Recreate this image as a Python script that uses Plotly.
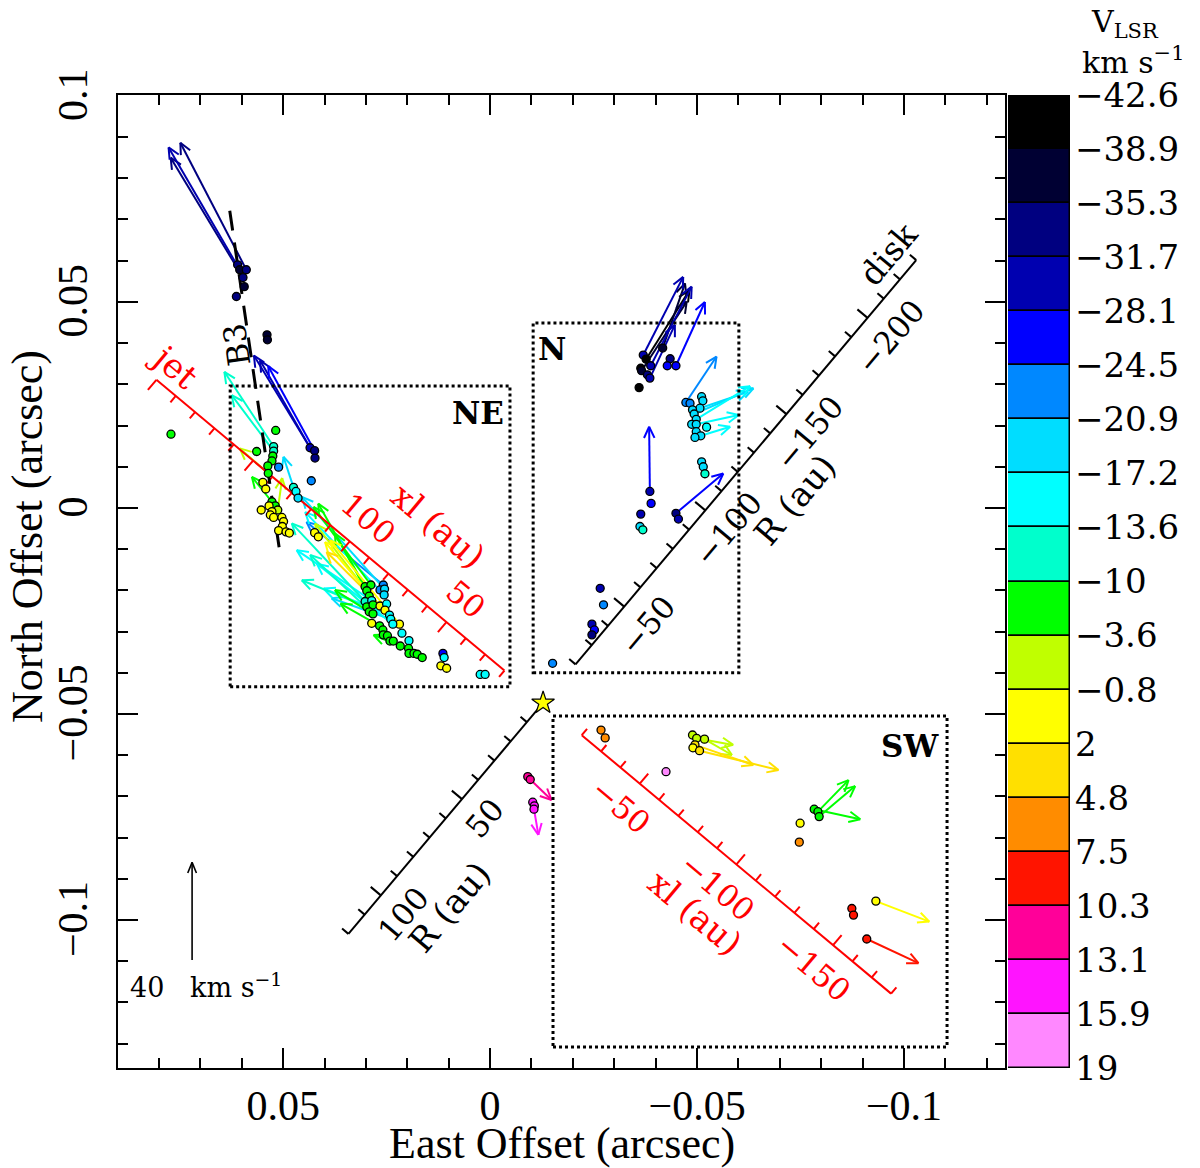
import numpy as np
import plotly.graph_objects as go

# V_LSR colour bands (km/s), top of the bar = most blue-shifted
v_edges = [-42.6, -38.9, -35.3, -31.7, -28.1, -24.5, -20.9, -17.2, -13.6, -10,
           -3.6, -0.8, 2, 4.8, 7.5, 10.3, 13.1, 15.9, 19]
band_colors = ["#000000", "#000033", "#000080", "#0000b0", "#0000ff", "#0088ff",
               "#00ddff", "#00ffff", "#00ffcc", "#00ff00", "#c0ff00", "#ffff00",
               "#ffe000", "#ff8c00", "#ff1400", "#ff0099", "#ff14ff", "#ff88ff"]

# maser spots: offsets in mas (east, north) and V_LSR in km/s
spot_x = [61.0, 60.5, 58.9, 59.7, 59.4, 61.3, 53.9, 53.8,
          43.5, 42.4, 42.3, 43.2, 77.1,
          51.8, 56.4, 52.3, 52.3, 52.5, 52.7, 51.1, 53.7, 53.6, 54.9,
          54.2, 47.5, 46.9, 46.4, 52.7, 51.9, 53.4, 51.3, 55.3, 52.7,
          53.1, 52.3, 50.3, 49.9, 50.2, 51.1, 49.3, 48.5, 42.4, 41.5,
          30.2, 28.8, 29.8, 29.2, 30.2, 28.6, 29.8, 28.3, 29.2, 28.3,
          25.8, 26.6, 25.5, 25.6, 26.6, 25.0, 25.4, 24.3, 24.0, 21.9,
          23.5, 28.6, 26.7, 25.9, 25.8, 24.8, 24.2, 23.4, 21.3, 21.7,
          19.6, 19.7, 19.6, 18.4, 17.6, 16.4, 11.4, 11.1, 11.9, 10.5, 2.4, 1.2,
          -37.0, -37.7, -36.4, -36.6, -38.8, -38.0, -38.6, -41.7, -43.5, -42.8,
          -44.9, -36.0, -47.3, -48.3, -51.1, -51.4, -50.7, -48.9, -49.3, -49.8,
          -48.7, -49.8, -52.3, -49.8, -50.9, -49.5, -51.1, -51.5, -51.9, -38.6,
          -38.9, -36.4, -36.2, -36.9, -44.9, -45.5, -26.6, -27.4, -24.6, -25.2,
          -24.6, -15.1,
          -26.8, -27.8, -48.9, -49.9, -51.8, -49.5, -49.0, -50.6, -42.5,
          -78.3, -79.2, -79.5, -74.9, -74.7, -87.4, -87.8, -93.2, -91.0,
          -9.1, -9.7, -10.3, -10.7, -10.6]
spot_y = [59.0, 57.8, 57.8, 55.9, 53.7, 51.3, 42.0, 40.8,
          14.6, 13.9, 12.1, 6.6, 17.9,
          18.8, 13.7, 14.9, 13.8, 12.6, 11.4, 9.9, 10.2, 8.4, 6.2,
          4.6, 5.0, 4.0, 2.4, 1.5, 0.5, 0.5, -0.5, -0.5, -0.9,
          -1.7, -2.3, -2.3, -3.3, -4.5, -5.5, -5.8, -6.1, -6.0, -7.0,
          -19.1, -18.7, -20.1, -21.4, -22.7, -22.5, -24.0, -23.5, -25.2, -25.7,
          -18.7, -19.9, -19.7, -21.1, -23.8, -23.3, -24.8, -26.0, -27.0, -28.2,
          -28.2, -28.0, -28.6, -29.6, -30.8, -31.0, -32.3, -32.3, -30.4, -33.5,
          -32.2, -34.1, -35.3, -35.3, -35.5, -36.3, -35.3, -36.3, -38.3, -38.9, -40.4, -40.4,
          37.1, 36.1, 33.9, 33.3, 34.5, 32.3, 31.5, 38.8, 36.2, 34.5,
          34.5, 29.2, 25.6, 25.4, 27.0, 26.0, 24.2, 23.8, 22.8, 21.5,
          20.3, 20.3, 19.6, 18.5, 17.5, 17.1, 11.2, 10.0, 8.3, 4.0,
          1.1, -1.5, -4.5, -5.3, -1.3, -2.7, -19.5, -23.5, -28.2, -29.6,
          -30.8, -37.7,
          -53.9, -55.8, -55.1, -55.9, -56.1, -57.5, -58.2, -58.9, -64.0,
          -73.1, -73.7, -74.9, -76.5, -81.1, -97.2, -98.8, -95.4, -104.6,
          -65.2, -65.9, -71.4, -72.3, -73.1]
spot_v = [-33.5, -37.1, -33.5, -33.5, -37.1, -33.5, -37.1, -37.1,
          -29.9, -33.5, -33.5, -22.7, -6.8,
          -6.8, -6.8, -11.8, -11.8, -6.8, -6.8, -22.7, -6.8, -6.8, 0.6,
          0.6, -11.8, -15.4, -19.0, -6.8, -6.8, 0.6, -2.2, 0.6, 0.6,
          0.6, 0.6, 0.6, 0.6, 0.6, 0.6, 0.6, 0.6, 0.6, 0.6,
          -6.8, -6.8, -6.8, -6.8, -11.8, -15.4, -6.8, -6.8, -6.8, -6.8,
          -22.7, -22.7, -19.0, -19.0, 0.6, -15.4, 0.6, -15.4, -15.4, 0.6,
          -15.4, 0.6, -6.8, -6.8, -6.8, -6.8, -6.8, -6.8, -15.4, -6.8,
          -15.4, -6.8, -6.8, -6.8, -6.8, -6.8, -26.3, -15.4, 0.6, 0.6, -15.4, -15.4,
          -29.9, -40.7, -40.7, -37.1, -29.9, -33.5, -29.9, -37.1, -33.5, -26.3,
          -26.3, -40.7, -22.7, -22.7, -19.0, -19.0, -19.0, -19.0, -19.0, -19.0,
          -19.0, -19.0, -15.4, -19.0, -19.0, -19.0, -19.0, -19.0, -11.8, -29.9,
          -26.3, -29.9, -19.0, -11.8, -33.5, -29.9, -29.9, -22.7, -29.9, -26.3,
          -33.5, -22.7,
          6.1, 6.1, -2.2, -2.2, -2.2, 3.4, 0.6, 3.4, 17.4,
          -6.8, -6.8, -6.8, 0.6, 6.1, 8.9, 8.9, 0.6, 8.9,
          11.7, 11.7, 14.5, 14.5, 14.5]

# proper motions: tail (mas), velocity east/north (km/s), V_LSR (km/s)
pm_x = [58.9, 60.5, 59.7, 43.5, 42.4, 43.5,
        52.3, 52.3, 53.6, 52.7, 51.3, 47.5,
        30.2, 28.8, 25.5, 25.8, 30.2, 29.8, 26.6, 28.6, 25.4, 29.8,
        24.3, 29.2, 24.0, 26.7, 21.7, 23.5, 28.3, 21.9, 29.2, 25.6,
        -37.0, -37.7, -36.6, -38.8, -38.6, -44.9, -41.7, -47.3,
        -49.3, -49.8, -50.7, -49.8, -50.9, -38.6, -44.9,
        -49.9, -51.8, -50.6, -49.5, -79.2, -79.5, -78.3, -93.2, -91.0,
        -9.7, -10.6]
pm_y = [57.8, 57.8, 55.9, 14.6, 13.9, 14.6,
        14.9, 13.8, 8.4, 1.5, -0.5, 5.0,
        -19.1, -18.7, -19.7, -18.7, -22.7, -20.1, -23.8, -22.5, -24.8, -24.0,
        -26.0, -25.2, -27.0, -28.6, -33.5, -28.2, -25.7, -28.2, -21.4, -21.1,
        37.1, 36.1, 33.3, 34.5, 31.5, 34.5, 38.8, 25.6,
        22.8, 21.5, 24.2, 20.3, 17.5, 4.0, -1.3,
        -55.9, -56.1, -58.9, -57.5, -73.7, -74.9, -73.1, -95.4, -104.6,
        -65.9, -73.1]
pm_ve = [26.9, 29.0, 29.5, 22.9, 18.9, 20.4,
         20.1, 17.1, 11.6, 8.2, -1.8, 4.1,
         19.1, 23.4, 33.7, 31.3, 29.9, 21.1, 22.4, 30.6, 23.8, 26.5,
         26.9, 14.0, 24.1, 16.0, 10.9, 31.0, 25.6, 28.3, 14.0, 32.2,
         -16.3, -17.7, -18.4, -16.7, -10.2, -11.8, -9.1, -12.5,
         -24.2, -22.0, -19.6, -17.3, -12.0, 0.3, -19.3,
         -14.9, -11.2, -32.2, -23.8, -12.5, -14.7, -18.8, -21.8, -21.1,
         -8.7, -1.8]
pm_vn = [52.0, 50.1, 49.1, 37.8, 34.6, 35.8,
         30.6, 22.9, 10.2, 10.2, 13.1, 12.5,
         34.0, 32.0, 37.8, 25.8, 32.0, 27.5, 26.2, 20.7, 23.8, 10.9,
         10.9, 8.9, 8.6, 9.1, 4.5, 24.8, 24.1, 34.4, 25.7, 33.9,
         32.0, 28.3, 28.3, 32.4, 21.8, 26.1, 26.5, 18.8,
         10.5, 13.6, 6.7, 3.8, 3.7, 26.5, 16.3,
         -2.7, -6.5, -7.9, -8.2, 12.9, 12.5, -4.1, -8.4, -9.9,
         -8.4, -10.5]
pm_v = [-33.5, -29.9, -33.5, -29.9, -26.3, -29.9,
        -11.8, -11.8, -2.2, -6.8, -2.2, -19.0,
        -6.8, -6.8, -19.0, -22.7, -11.8, -2.2, 0.6, -15.4, 3.4, -11.8,
        -15.4, -6.8, -19.0, -6.8, -6.8, -15.4, -11.8, 0.6, -6.8, -15.4,
        -29.9, -40.7, -37.1, -29.9, -29.9, -26.3, -37.1, -22.7,
        -19.0, -15.4, -19.0, -15.4, -15.4, -26.3, -26.3,
        -2.2, -2.2, 3.4, 3.4, -6.8, -6.8, -6.8, 0.6, 8.9,
        11.7, 14.5]

# dotted regions (mas): east edge, west edge, north edge, south edge
box_names = ["NE", "N", "SW"]
box_east = [62.8, -10.4, -15.2]
box_west = [-4.8, -60.1, -110.4]
box_north = [29.6, 44.9, -50.5]
box_south = [-43.4, -40.0, -130.8]
box_lab_x = [2.9, -15.0, -101.4]
box_lab_y = [23.1, 38.6, -57.8]

# geometry of the source
star_x, star_y = -12.8, -47.3      # mas
dist_kpc = 1.64
jet_pa = 50.0                      # deg east of north
scale_kms = 40
scale_len = 23.7                   # mas drawn for scale_kms
scale_x, scale_y = 72.0, -109.7
b3_x = [62.9, 50.7]
b3_y = [72.1, -11.4]
b3_lab = (61.3, 39.6)

MAS = 1e-3
SERIF = "Liberation Serif"
CENT = "DejaVu Serif"
kms2mas = scale_len / scale_kms

# page sits 8px inside the browser window (body margin)
W, H = 1190, 1160
ML, MR, MT, MB = 110, 128, 87, 100
PW, PH = W - ML - MR, H - MT - MB


def px2paper(x, y):
    # window pixel -> paper coordinates
    return (x - 8 - ML) / PW, (H - MB - (y - 8)) / PH


def band_of(v):
    return int(np.clip(np.searchsorted(v_edges, v) - 1, 0, len(band_colors) - 1))


def arrow_xy(x0, y0, dx, dy, head=3.0, ang=25.0):
    x1, y1 = x0 + dx, y0 + dy
    L = np.hypot(dx, dy)
    ux, uy = dx / L, dy / L
    xs, ys = [x0, x1, None], [y0, y1, None]
    for s in (1, -1):
        a = np.radians(180 + s * ang)
        hx = ux * np.cos(a) - uy * np.sin(a)
        hy = ux * np.sin(a) + uy * np.cos(a)
        xs += [x1, x1 + head * hx, None]
        ys += [y1, y1 + head * hy, None]
    return xs, ys


def mas(v):
    return [None if a is None else a * MAS for a in v]


fig = go.Figure()

# proper motion arrows, one trace per colour band
segs = {}
for x0, y0, ve, vn, v in zip(pm_x, pm_y, pm_ve, pm_vn, pm_v):
    b = band_of(v)
    xs, ys = arrow_xy(x0, y0, ve * kms2mas, vn * kms2mas)
    segs.setdefault(b, ([], []))
    segs[b][0].extend(xs)
    segs[b][1].extend(ys)
for b, (xs, ys) in sorted(segs.items()):
    fig.add_trace(go.Scatter(x=mas(xs), y=mas(ys), mode="lines",
                             line=dict(color=band_colors[b], width=2),
                             hoverinfo="skip"))

# jet / disk position axes in au
au = 1.0 / dist_kpc
ang = np.radians(jet_pa)
jet_u = np.array([np.sin(ang), np.cos(ang)])
disk_u = np.array([np.sin(ang + np.pi / 2), np.cos(ang + np.pi / 2)])
star = np.array([star_x, star_y])

au_axes = [
    # direction, start, end, tick side, label side, labels, title, title r, title off, colour, angle
    (jet_u, 20, 200, disk_u, -disk_u, [50, 100], "xl (au)", 77, 16.5, "red", 90 - jet_pa),
    (jet_u, -20, -180, -disk_u, disk_u, [-50, -100, -150], "xl (au)", -100, 15.5, "red", 90 - jet_pa),
    (disk_u, -20, -230, jet_u, -jet_u, [-50, -100, -150, -200], "R (au)", -126, 14.8, "black", -jet_pa),
    (disk_u, 0, 120, jet_u, -jet_u, [50, 100], "R (au)", 86, 14.5, "black", -jet_pa),
]
for u, r0, r1, tside, lside, labs, title, tr, toff, col, tang in au_axes:
    p0 = star + r0 * au * u
    p1 = star + r1 * au * u
    xs, ys = [p0[0], p1[0], None], [p0[1], p1[1], None]
    step = 10 if r1 > r0 else -10
    for r in range(r0, r1 + step, step):
        if r == 0:
            continue
        tl = 3.2 if r % 50 == 0 else 2.0
        p = star + r * au * u
        q = p + tl * tside
        xs += [p[0], q[0], None]
        ys += [p[1], q[1], None]
    fig.add_trace(go.Scatter(x=mas(xs), y=mas(ys), mode="lines",
                             line=dict(color=col, width=2), hoverinfo="skip"))
    for r in labs:
        p = star + r * au * u + 7.2 * lside
        fig.add_annotation(x=p[0] * MAS, y=p[1] * MAS, text=str(r).replace("-", "−"),
                           showarrow=False, textangle=tang,
                           font=dict(family=CENT, size=31, color=col))
    p = star + tr * au * u + toff * lside
    fig.add_annotation(x=p[0] * MAS, y=p[1] * MAS, text=title, showarrow=False,
                       textangle=tang, font=dict(family=CENT, size=34, color=col))

p = star + 198 * au * jet_u - 5.3 * disk_u
fig.add_annotation(x=p[0] * MAS, y=p[1] * MAS, text="jet", showarrow=False,
                   textangle=90 - jet_pa, font=dict(family=CENT, size=34, color="red"))
p = star - 225 * au * disk_u + 6.0 * jet_u
fig.add_annotation(x=p[0] * MAS, y=p[1] * MAS, text="disk", showarrow=False,
                   textangle=-jet_pa, font=dict(family=CENT, size=33, color="black"))

# B3 dashed line
fig.add_trace(go.Scatter(x=mas(b3_x), y=mas(b3_y), mode="lines",
                         line=dict(color="black", width=3, dash="20px,12px"),
                         hoverinfo="skip"))
fig.add_annotation(x=b3_lab[0] * MAS, y=b3_lab[1] * MAS, text="B3", showarrow=False,
                   textangle=-98, font=dict(family=CENT, size=31, color="black"))

# dotted region boxes
for name, e, w, n, s, lx, ly in zip(box_names, box_east, box_west, box_north,
                                     box_south, box_lab_x, box_lab_y):
    fig.add_shape(type="rect", x0=e * MAS, x1=w * MAS, y0=s * MAS, y1=n * MAS,
                  line=dict(color="black", width=3, dash="dot"))
    fig.add_annotation(x=lx * MAS, y=ly * MAS, text="<b>%s</b>" % name, showarrow=False,
                       font=dict(family=CENT, size=31, color="black"))

# maser spots
fig.add_trace(go.Scatter(
    x=[a * MAS for a in spot_x], y=[a * MAS for a in spot_y], mode="markers",
    marker=dict(size=8, color=[band_colors[band_of(v)] for v in spot_v],
                line=dict(color="black", width=1.3)),
    hoverinfo="skip"))

# reference star
fig.add_trace(go.Scatter(x=[star_x * MAS], y=[star_y * MAS], mode="markers",
                         marker=dict(symbol="star", size=17, color="#ffff00",
                                     line=dict(color="black", width=1.2)),
                         hoverinfo="skip"))

# velocity scale arrow
xs, ys = arrow_xy(scale_x, scale_y, 0, scale_kms * kms2mas, head=2.8, ang=22)
fig.add_trace(go.Scatter(x=mas(xs), y=mas(ys), mode="lines",
                         line=dict(color="black", width=1.6), hoverinfo="skip"))
fig.add_annotation(x=87.5 * MAS, y=-115.8 * MAS, text="%d   km s<sup>−1</sup>" % scale_kms,
                   showarrow=False, xanchor="left",
                   font=dict(family=CENT, size=27, color="black"))

# colour bar built from stacked bands
nb = len(band_colors)
fig.add_trace(go.Bar(x=[0] * nb, y=[1] * nb, base=list(range(nb)), width=1,
                     marker=dict(color=band_colors, line=dict(color="black", width=1.5)),
                     xaxis="x2", yaxis="y2", hoverinfo="skip"))

tick_font = dict(family=SERIF, size=42, color="black")
axis_common = dict(showline=True, linewidth=2, linecolor="black", mirror="allticks",
                   ticks="inside", ticklen=20, tickwidth=1.5, tickcolor="black",
                   showgrid=False, zeroline=False, tickfont=tick_font, automargin=False,
                   minor=dict(tick0=0, dtick=0.01, ticks="inside", ticklen=10,
                              tickwidth=1.5, tickcolor="black"))
xt = [0.05, 0, -0.05, -0.1]
yt = [0.1, 0.05, 0, -0.05, -0.1]

fig.update_layout(
    width=W, height=H,
    margin=dict(l=ML, r=MR, t=MT, b=MB, autoexpand=False),
    paper_bgcolor="white", plot_bgcolor="white",
    showlegend=False, bargap=0,
    xaxis=dict(domain=[0, 887 / PW], range=[0.0899, -0.1244],
               tickvals=xt, ticktext=[("%g" % t).replace("-", "−") for t in xt],
               ticklabelstandoff=0, **axis_common),
    yaxis=dict(range=[-0.1359, 0.1002],
               tickvals=yt, ticktext=[("%g" % t).replace("-", "−") + "\u00a0" for t in yt],
               tickangle=-90, ticklabelstandoff=12, **axis_common),
    xaxis2=dict(domain=[890 / PW, 1], range=[-0.5, 0.5], anchor="y2",
                visible=False, fixedrange=True),
    yaxis2=dict(domain=[0, 1], range=[nb, 0], anchor="x2", side="right",
                tickvals=list(range(nb + 1)),
                ticktext=[("%g" % e).replace("-", "−") for e in v_edges],
                ticks="", showgrid=False, zeroline=False, showline=False,
                ticklabelstandoff=4, automargin=False,
                tickfont=dict(family=CENT, size=34, color="black")),
)

# axis titles and colour bar title (paper coordinates, centred)
outer_text = [
    ("East Offset (arcsec)", 562, 1143, 0, SERIF, 44),
    ("North Offset (arcsec)", 27, 537, -90, SERIF, 44),
    ("V<sub>LSR</sub>", 1125, 24, 0, CENT, 30),
    ("km s<sup>−1</sup>", 1133, 60, 0, CENT, 30),
]
for txt, px, py, ta, fam, fs in outer_text:
    tx, ty = px2paper(px, py)
    fig.add_annotation(xref="paper", yref="paper", x=tx, y=ty, text=txt,
                       xanchor="center", yanchor="middle", showarrow=False,
                       textangle=ta, font=dict(family=fam, size=fs, color="black"))

fig.write_html("out.html")
